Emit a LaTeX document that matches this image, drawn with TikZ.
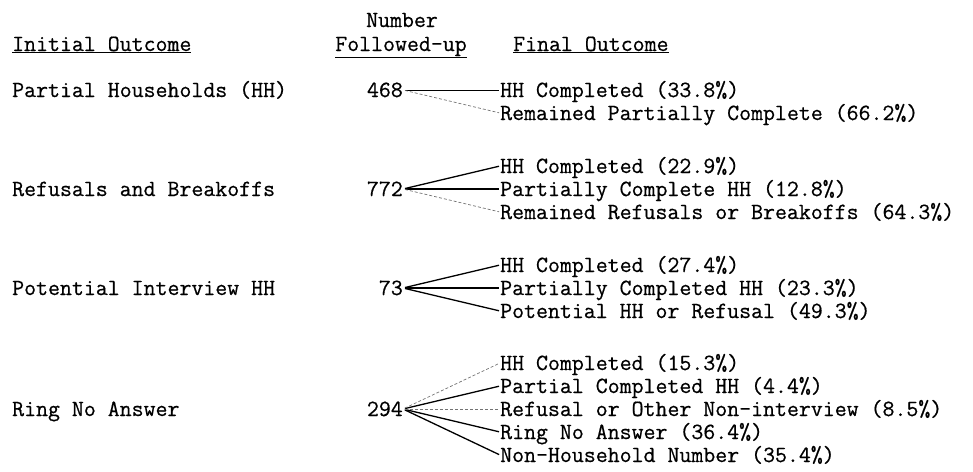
\documentclass[tikz,border=0pt]{standalone}
\usepackage{fontspec}
\setmonofont{Latin Modern Mono}[FakeBold=0.6]
\usetikzlibrary{positioning}

\begin{document}
\begin{tikzpicture}[x=1pt, y=-1pt,
        txt/.style={inner sep=0pt, text height=14pt, text depth=0pt, font=\ttfamily\fontsize{23.2}{26}\selectfont},
        outcome/.style={txt, anchor=base west},
        count/.style={txt, anchor=base east},
        head/.style={txt, anchor=base},
        branch/.style={draw, line width=1.3pt, shorten <=2pt, shorten >=1pt},
        thin_branch/.style={branch, line width=0.8pt},
        faint_branch/.style={branch, line width=0.7pt, black!55, densely dashed}
    ]
        \useasboundingbox (0,0) rectangle (973,471);

        % Column headers
        \node[head] (hNum) at (402, 27) {Number};
        \node[head] (hFol) at (401, 51) {\underline{Followed-up}};
        \node[outcome] (hInit) at (12, 51) {\underline{Initial Outcome}};
        \node[outcome] (hFin) at (513, 51) {\underline{Final Outcome}};

        % Initial outcomes
        \node[outcome] (iPart) at (12, 97) {Partial Households (HH)};
        \node[outcome] (iRef) at (12, 196) {Refusals and Breakoffs};
        \node[outcome] (iPot) at (12, 295) {Potential Interview HH};
        \node[outcome] (iRing) at (12, 416) {Ring No Answer};

        % Numbers followed-up
        \node[count] (n468) at (403, 97) {468};
        \node[count] (n772) at (403, 196) {772};
        \node[count] (n73) at (403, 295) {73};
        \node[count] (n294) at (403, 416) {294};

        % Final outcomes
        \node[outcome] (fA1) at (500, 97) {HH Completed (33.8\%)};
        \node[outcome] (fA2) at (500, 120) {Remained Partially Complete (66.2\%)};

        \node[outcome] (fB1) at (500, 173) {HH Completed (22.9\%)};
        \node[outcome] (fB2) at (500, 196) {Partially Complete HH (12.8\%)};
        \node[outcome] (fB3) at (500, 219) {Remained Refusals or Breakoffs (64.3\%)};

        \node[outcome] (fC1) at (500, 272) {HH Completed (27.4\%)};
        \node[outcome] (fC2) at (500, 295) {Partially Completed HH (23.3\%)};
        \node[outcome] (fC3) at (500, 318) {Potential HH or Refusal (49.3\%)};

        \node[outcome] (fD1) at (500, 370) {HH Completed (15.3\%)};
        \node[outcome] (fD2) at (500, 393) {Partial Completed HH (4.4\%)};
        \node[outcome] (fD3) at (500, 416) {Refusal or Other Non-interview (8.5\%)};
        \node[outcome] (fD4) at (500, 439) {Ring No Answer (36.4\%)};
        \node[outcome] (fD5) at (500, 462) {Non-Household Number (35.4\%)};

        % Branches
        \draw[thin_branch] (n468.east) -- (fA1.west);
        \draw[faint_branch] (n468.east) -- (fA2.west);
        \foreach \f in {fB1, fB2} {
            \draw[branch] (n772.east) -- (\f.west);
        }
        \draw[faint_branch] (n772.east) -- (fB3.west);
        \foreach \f in {fC1, fC2, fC3} {
            \draw[branch] (n73.east) -- (\f.west);
        }
        \foreach \f in {fD2, fD4, fD5} {
            \draw[branch] (n294.east) -- (\f.west);
        }
        \draw[faint_branch] (n294.east) -- (fD1.west);
        \draw[faint_branch] (n294.east) -- (fD3.west);

    \end{tikzpicture}
\end{document}
